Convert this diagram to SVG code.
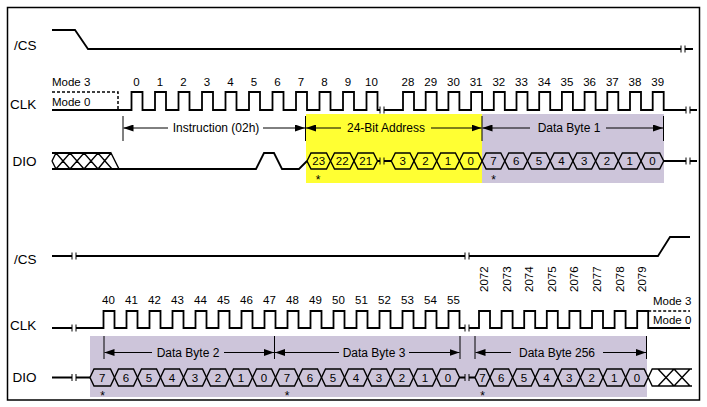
<svg xmlns="http://www.w3.org/2000/svg" width="707" height="407" viewBox="0 0 707 407">
<style>
text{font-family:"Liberation Sans",Arial,Helvetica,sans-serif;fill:#000}
.lbl{font-size:13.5px}
.num{font-size:11.5px;text-anchor:middle}
.rot{font-size:11.5px}
.mode{font-size:11.5px}
.bit{font-size:11.5px;text-anchor:middle}
.cap{font-size:12px;text-anchor:middle}
.star{font-size:12px;text-anchor:middle}
.sig{fill:none;stroke:#000;stroke-width:1.8;stroke-linejoin:miter}
.hex{fill:none;stroke:#000;stroke-width:1.4}
.tick{fill:none;stroke:#000;stroke-width:1}
.dash{fill:none;stroke:#000;stroke-width:1.5;stroke-dasharray:3 2}
.dim{fill:none;stroke:#000;stroke-width:1}
.arr{fill:none;stroke:#000;stroke-width:1;marker-end:url(#ah)}
</style>
<defs>
<marker id="ah" markerUnits="userSpaceOnUse" markerWidth="10" markerHeight="7" refX="10" refY="3.5" orient="auto">
<path d="M0,0 L10,3.5 L0,7 z" fill="#000"/>
</marker>
</defs>
<rect x="0" y="0" width="707" height="407" fill="#fff"/>
<rect x="7.5" y="7.5" width="692" height="392.5" fill="none" stroke="#000" stroke-width="1.5"/>

<g id="backgrounds">
<rect x="306" y="114" width="176" height="69" fill="#ffff33"/>
<rect x="482" y="114" width="182" height="69" fill="#cdc5da"/>
<rect x="90" y="336" width="557" height="61" fill="#cdc5da"/>
</g>

<g id="labels">
<text class="lbl" x="14" y="50">/CS</text>
<text class="lbl" x="10" y="109">CLK</text>
<text class="lbl" x="12.5" y="166">DIO</text>
<text class="lbl" x="14" y="264">/CS</text>
<text class="lbl" x="10" y="330">CLK</text>
<text class="lbl" x="12.5" y="382">DIO</text>
<text class="mode" x="52" y="86">Mode 3</text>
<text class="mode" x="52" y="106">Mode 0</text>
<text class="mode" x="653" y="305">Mode 3</text>
<text class="mode" x="653" y="324">Mode 0</text>
</g>

<g id="cs-top">
<path class="sig" d="M52,30 H75 L88,49 H681 M685,49 H693"/>
<path class="tick" d="M681,45.5 V52.5 M685,45.5 V52.5"/>
</g>

<g id="clk-top">
<path class="dash" d="M52,92 H118 V110"/>
<path class="sig" d="M52,110 H131.5 V92 H142.5 V110 H155 V92 H166 V110 H178.5 V92 H189.5 V110 H202 V92 H213 V110 H225.5 V92 H236.5 V110 H249 V92 H260 V110 H272.5 V92 H283.5 V110 H296 V92 H307 V110 H319.5 V92 H330.5 V110 H343 V92 H354 V110 H366.5 V92 H377.5 V110 H380"/>
<path class="sig" d="M384,110 H403 V92 H414 V110 H425.7 V92 H436.7 V110 H448.4 V92 H459.4 V110 H471.1 V92 H482.1 V110 H493.8 V92 H504.8 V110 H516.5 V92 H527.5 V110 H539.2 V92 H550.2 V110 H561.9 V92 H572.9 V110 H584.6 V92 H595.6 V110 H607.3 V92 H618.3 V110 H630 V92 H641 V110 H652.7 V92 H663.7 V110 H686 M690,110 H697"/>
<path class="tick" d="M380,106.5 V113.5 M384,106.5 V113.5 M686,106.5 V113.5 M690,106.5 V113.5"/>
<text class="num" x="136.5" y="86">0</text>
<text class="num" x="160" y="86">1</text>
<text class="num" x="183.5" y="86">2</text>
<text class="num" x="207" y="86">3</text>
<text class="num" x="230.5" y="86">4</text>
<text class="num" x="254" y="86">5</text>
<text class="num" x="277.5" y="86">6</text>
<text class="num" x="301" y="86">7</text>
<text class="num" x="324.5" y="86">8</text>
<text class="num" x="348" y="86">9</text>
<text class="num" x="371.5" y="86">10</text>
<text class="num" x="408" y="86">28</text>
<text class="num" x="430.7" y="86">29</text>
<text class="num" x="453.4" y="86">30</text>
<text class="num" x="476.1" y="86">31</text>
<text class="num" x="498.8" y="86">32</text>
<text class="num" x="521.5" y="86">33</text>
<text class="num" x="544.2" y="86">34</text>
<text class="num" x="566.9" y="86">35</text>
<text class="num" x="589.6" y="86">36</text>
<text class="num" x="612.3" y="86">37</text>
<text class="num" x="635" y="86">38</text>
<text class="num" x="657.7" y="86">39</text>
</g>

<g id="dio-top">
<path class="sig" d="M52,153 H111 M52,169 H256 L264,153 H274 L282,169 H299 L307,161"/>
<path class="hex" d="M52,161 L56,153 L70,169 M56,169 L70,153 L84,169 M70,169 L84,153 L98,169 M84,169 L98,153 L112,169 M98,169 L111,153 L119,169 M52,161 L56,169"/>
<polygon class="hex" points="307,161 311,153 326.5,153 330.5,161 326.5,169 311,169"/>
<polygon class="hex" points="330.5,161 334.5,153 350,153 354,161 350,169 334.5,169"/>
<polygon class="hex" points="354,161 358,153 373.5,153 377.5,161 373.5,169 358,169"/>
<path class="sig" d="M377.5,161 H380 M384,161 H391.3"/>
<path class="tick" d="M380,157.5 V164.5 M384,157.5 V164.5"/>
<polygon class="hex" points="391.3,161 395.3,153 410,153 414,161 410,169 395.3,169"/>
<polygon class="hex" points="414,161 418,153 432.7,153 436.7,161 432.7,169 418,169"/>
<polygon class="hex" points="436.7,161 440.7,153 455.4,153 459.4,161 455.4,169 440.7,169"/>
<polygon class="hex" points="459.4,161 463.4,153 478.1,153 482.1,161 478.1,169 463.4,169"/>
<polygon class="hex" points="482.1,161 486.1,153 500.8,153 504.8,161 500.8,169 486.1,169"/>
<polygon class="hex" points="504.8,161 508.8,153 523.5,153 527.5,161 523.5,169 508.8,169"/>
<polygon class="hex" points="527.5,161 531.5,153 546.2,153 550.2,161 546.2,169 531.5,169"/>
<polygon class="hex" points="550.2,161 554.2,153 568.9,153 572.9,161 568.9,169 554.2,169"/>
<polygon class="hex" points="572.9,161 576.9,153 591.6,153 595.6,161 591.6,169 576.9,169"/>
<polygon class="hex" points="595.6,161 599.6,153 614.3,153 618.3,161 614.3,169 599.6,169"/>
<polygon class="hex" points="618.3,161 622.3,153 637,153 641,161 637,169 622.3,169"/>
<polygon class="hex" points="641,161 645,153 659.7,153 663.7,161 659.7,169 645,169"/>
<path class="sig" d="M663.7,161 H686 M690,161 H697"/>
<path class="tick" d="M686,157.5 V164.5 M690,157.5 V164.5"/>
<text class="bit" x="318.75" y="165">23</text>
<text class="bit" x="342.25" y="165">22</text>
<text class="bit" x="365.75" y="165">21</text>
<text class="bit" x="402.65" y="165">3</text>
<text class="bit" x="425.35" y="165">2</text>
<text class="bit" x="448.05" y="165">1</text>
<text class="bit" x="470.75" y="165">0</text>
<text class="bit" x="493.45" y="165">7</text>
<text class="bit" x="516.15" y="165">6</text>
<text class="bit" x="538.85" y="165">5</text>
<text class="bit" x="561.55" y="165">4</text>
<text class="bit" x="584.25" y="165">3</text>
<text class="bit" x="606.95" y="165">2</text>
<text class="bit" x="629.65" y="165">1</text>
<text class="bit" x="652.35" y="165">0</text>
<text class="star" x="318" y="184">*</text>
<text class="star" x="493.5" y="184">*</text>
</g>

<g id="spans-top">
<path class="dim" d="M123,116 V141 M305.5,116 V141 M482,116 V141 M663.5,116 V141"/>
<path class="arr" d="M168,128 H123.5"/>
<text class="cap" x="216" y="132">Instruction (02h)</text>
<path class="arr" d="M263,128 H305"/>
<path class="arr" d="M341,128 H306"/>
<text class="cap" x="386" y="132">24-Bit Address</text>
<path class="arr" d="M431,128 H481.5"/>
<path class="arr" d="M530,128 H482.5"/>
<text class="cap" x="569" y="132">Data Byte 1</text>
<path class="arr" d="M606,128 H663"/>
</g>

<g id="cs-bottom">
<path class="sig" d="M52,256 H72 M76,256 H465 M469,256 H658 L670,237 H690"/>
<path class="tick" d="M72,252.5 V259.5 M76,252.5 V259.5 M465,252.5 V259.5 M469,252.5 V259.5"/>
</g>

<g id="clk-bottom">
<path class="sig" d="M52,328 H72 M76,328 H103.5 V311 H114.5 V328 H126.5 V311 H137.5 V328 H149.5 V311 H160.5 V328 H172.5 V311 H183.5 V328 H195.5 V311 H206.5 V328 H218.5 V311 H229.5 V328 H241.5 V311 H252.5 V328 H264.5 V311 H275.5 V328 H287.5 V311 H298.5 V328 H310.5 V311 H321.5 V328 H333.5 V311 H344.5 V328 H356.5 V311 H367.5 V328 H379.5 V311 H390.5 V328 H402.5 V311 H413.5 V328 H425.5 V311 H436.5 V328 H448.5 V311 H459.5 V328 H465"/>
<path class="sig" d="M469,328 H479 V311 H490 V328 H501.6 V311 H512.6 V328 H524.2 V311 H535.2 V328 H546.8 V311 H557.8 V328 H569.4 V311 H580.4 V328 H592 V311 H603 V328 H614.6 V311 H625.6 V328 H637.2 V311 H648.2 V328 H690"/>
<path class="dash" d="M648.2,311 H690"/>
<path class="tick" d="M72,324.5 V331.5 M76,324.5 V331.5 M465,324.5 V331.5 M469,324.5 V331.5"/>
<text class="num" x="108.5" y="304">40</text>
<text class="num" x="131.5" y="304">41</text>
<text class="num" x="154.5" y="304">42</text>
<text class="num" x="177.5" y="304">43</text>
<text class="num" x="200.5" y="304">44</text>
<text class="num" x="223.5" y="304">45</text>
<text class="num" x="246.5" y="304">46</text>
<text class="num" x="269.5" y="304">47</text>
<text class="num" x="292.5" y="304">48</text>
<text class="num" x="315.5" y="304">49</text>
<text class="num" x="338.5" y="304">50</text>
<text class="num" x="361.5" y="304">51</text>
<text class="num" x="384.5" y="304">52</text>
<text class="num" x="407.5" y="304">53</text>
<text class="num" x="430.5" y="304">54</text>
<text class="num" x="453.5" y="304">55</text>
<text class="rot" x="488" y="292" transform="rotate(-90 488 292)">2072</text>
<text class="rot" x="510.6" y="292" transform="rotate(-90 510.6 292)">2073</text>
<text class="rot" x="533.2" y="292" transform="rotate(-90 533.2 292)">2074</text>
<text class="rot" x="555.8" y="292" transform="rotate(-90 555.8 292)">2075</text>
<text class="rot" x="578.4" y="292" transform="rotate(-90 578.4 292)">2076</text>
<text class="rot" x="601" y="292" transform="rotate(-90 601 292)">2077</text>
<text class="rot" x="623.6" y="292" transform="rotate(-90 623.6 292)">2078</text>
<text class="rot" x="646.2" y="292" transform="rotate(-90 646.2 292)">2079</text>
</g>

<g id="dio-bottom">
<path class="sig" d="M52,377.5 H72 M76,377.5 H90 M459.5,377.5 H465 M469,377.5 H475"/>
<path class="tick" d="M72,374 V381 M76,374 V381 M465,374 V381 M469,374 V381"/>
<polygon class="hex" points="90,377.5 94,369 110.5,369 114.5,377.5 110.5,386 94,386"/>
<polygon class="hex" points="114.5,377.5 118.5,369 133.5,369 137.5,377.5 133.5,386 118.5,386"/>
<polygon class="hex" points="137.5,377.5 141.5,369 156.5,369 160.5,377.5 156.5,386 141.5,386"/>
<polygon class="hex" points="160.5,377.5 164.5,369 179.5,369 183.5,377.5 179.5,386 164.5,386"/>
<polygon class="hex" points="183.5,377.5 187.5,369 202.5,369 206.5,377.5 202.5,386 187.5,386"/>
<polygon class="hex" points="206.5,377.5 210.5,369 225.5,369 229.5,377.5 225.5,386 210.5,386"/>
<polygon class="hex" points="229.5,377.5 233.5,369 248.5,369 252.5,377.5 248.5,386 233.5,386"/>
<polygon class="hex" points="252.5,377.5 256.5,369 271.5,369 275.5,377.5 271.5,386 256.5,386"/>
<polygon class="hex" points="275.5,377.5 279.5,369 294.5,369 298.5,377.5 294.5,386 279.5,386"/>
<polygon class="hex" points="298.5,377.5 302.5,369 317.5,369 321.5,377.5 317.5,386 302.5,386"/>
<polygon class="hex" points="321.5,377.5 325.5,369 340.5,369 344.5,377.5 340.5,386 325.5,386"/>
<polygon class="hex" points="344.5,377.5 348.5,369 363.5,369 367.5,377.5 363.5,386 348.5,386"/>
<polygon class="hex" points="367.5,377.5 371.5,369 386.5,369 390.5,377.5 386.5,386 371.5,386"/>
<polygon class="hex" points="390.5,377.5 394.5,369 409.5,369 413.5,377.5 409.5,386 394.5,386"/>
<polygon class="hex" points="413.5,377.5 417.5,369 432.5,369 436.5,377.5 432.5,386 417.5,386"/>
<polygon class="hex" points="436.5,377.5 440.5,369 455.5,369 459.5,377.5 455.5,386 440.5,386"/>
<polygon class="hex" points="475,377.5 479,369 486,369 490,377.5 486,386 479,386"/>
<polygon class="hex" points="490,377.5 494,369 508.6,369 512.6,377.5 508.6,386 494,386"/>
<polygon class="hex" points="512.6,377.5 516.6,369 531.2,369 535.2,377.5 531.2,386 516.6,386"/>
<polygon class="hex" points="535.2,377.5 539.2,369 553.8,369 557.8,377.5 553.8,386 539.2,386"/>
<polygon class="hex" points="557.8,377.5 561.8,369 576.4,369 580.4,377.5 576.4,386 561.8,386"/>
<polygon class="hex" points="580.4,377.5 584.4,369 599,369 603,377.5 599,386 584.4,386"/>
<polygon class="hex" points="603,377.5 607,369 621.6,369 625.6,377.5 621.6,386 607,386"/>
<polygon class="hex" points="625.6,377.5 629.6,369 644.2,369 648.2,377.5 644.2,386 629.6,386"/>
<path class="hex" d="M648.2,377.5 L652.2,369 H692 M648.2,377.5 L652.2,386 H692 M658,369 L674,386 M658,386 L674,369 M674,369 L690,386 M674,386 L690,369"/>
<text class="bit" x="102.25" y="381.5">7</text>
<text class="bit" x="126" y="381.5">6</text>
<text class="bit" x="149" y="381.5">5</text>
<text class="bit" x="172" y="381.5">4</text>
<text class="bit" x="195" y="381.5">3</text>
<text class="bit" x="218" y="381.5">2</text>
<text class="bit" x="241" y="381.5">1</text>
<text class="bit" x="264" y="381.5">0</text>
<text class="bit" x="287" y="381.5">7</text>
<text class="bit" x="310" y="381.5">6</text>
<text class="bit" x="333" y="381.5">5</text>
<text class="bit" x="356" y="381.5">4</text>
<text class="bit" x="379" y="381.5">3</text>
<text class="bit" x="402" y="381.5">2</text>
<text class="bit" x="425" y="381.5">1</text>
<text class="bit" x="448" y="381.5">0</text>
<text class="bit" x="482.5" y="381.5">7</text>
<text class="bit" x="501.3" y="381.5">6</text>
<text class="bit" x="523.9" y="381.5">5</text>
<text class="bit" x="546.5" y="381.5">4</text>
<text class="bit" x="569.1" y="381.5">3</text>
<text class="bit" x="591.7" y="381.5">2</text>
<text class="bit" x="614.3" y="381.5">1</text>
<text class="bit" x="636.9" y="381.5">0</text>
<text class="star" x="102.5" y="400">*</text>
<text class="star" x="287" y="400">*</text>
<text class="star" x="482.5" y="400">*</text>
</g>

<g id="spans-bottom">
<path class="dim" d="M104,336 V359 M274.5,336 V359 M460,336 V359 M475,336 V359 M646.5,336 V359"/>
<path class="arr" d="M152,352.5 H104.5"/>
<text class="cap" x="188" y="356.5">Data Byte 2</text>
<path class="arr" d="M224,352.5 H274"/>
<path class="arr" d="M339,352.5 H275"/>
<text class="cap" x="374" y="356.5">Data Byte 3</text>
<path class="arr" d="M409,352.5 H459.5"/>
<path class="arr" d="M511,352.5 H475.5"/>
<text class="cap" x="557" y="356.5">Data Byte 256</text>
<path class="arr" d="M603,352.5 H646"/>
</g>
</svg>
